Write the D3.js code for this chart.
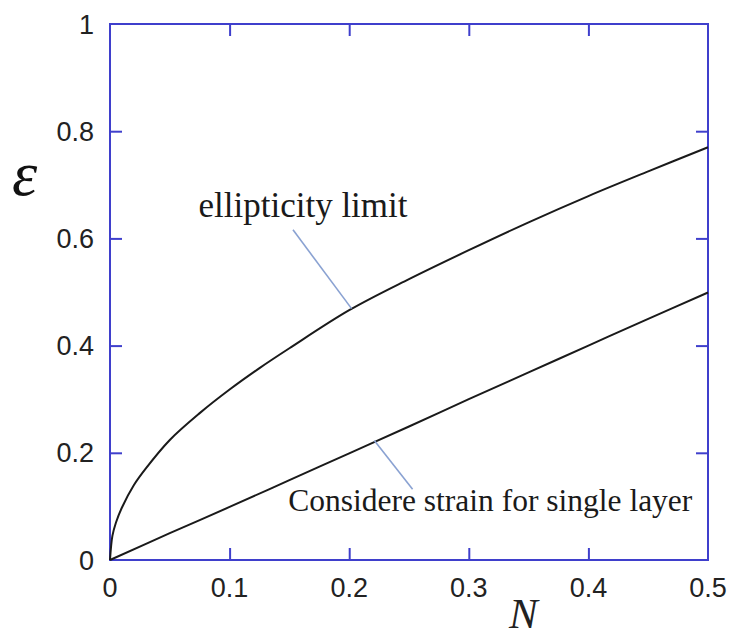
<!DOCTYPE html>
<html>
<head>
<meta charset="utf-8">
<script src="https://cdn.jsdelivr.net/npm/d3@7"></script>
<style>
  html, body { margin: 0; padding: 0; background: #fff; }
  svg { display: block; }
</style>
</head>
<body>
<svg id="chart" width="735" height="636"></svg>
<script>
// ---- data ----
const ellipN   = [0, 0.002, 0.005, 0.01, 0.02, 0.03, 0.05, 0.075, 0.1, 0.125, 0.15, 0.2, 0.25, 0.3, 0.35, 0.4, 0.45, 0.5];
const ellipEps = [0, 0.045, 0.07, 0.098, 0.14, 0.171, 0.224, 0.274, 0.318, 0.358, 0.395, 0.466, 0.524, 0.578, 0.63, 0.679, 0.725, 0.77];
const consN    = [0, 0.05, 0.1, 0.15, 0.2, 0.25, 0.3, 0.35, 0.4, 0.45, 0.5];
const consEps  = [0, 0.05, 0.099, 0.149, 0.199, 0.249, 0.3, 0.35, 0.4, 0.45, 0.499];
const xTicks = [0, 0.1, 0.2, 0.3, 0.4, 0.5];
const yTicks = [0, 0.2, 0.4, 0.6, 0.8, 1];
const annotations = [
  { text: "ellipticity limit", size: 35, tx: 0.074, ty: 0.64, from: [0.153, 0.616], to: [0.202, 0.469] },
  { text: "Considere strain for single layer", size: 31.5, tx: 0.149, ty: 0.092, from: [0.221, 0.223], to: [0.253, 0.132] }
];

// ---- layout ----
(function () {
const svg = d3.select("#chart");
const x = d3.scaleLinear().domain([0, 0.5]).range([110, 708]);
const y = d3.scaleLinear().domain([0, 1]).range([560, 24]);
const axisColor = "#3f3fcc";
const fmt = d => d === 0 ? "0" : (d === 1 ? "1" : d3.format(".1f")(d));

// frame
svg.append("rect")
  .attr("x", x(0)).attr("y", y(1))
  .attr("width", x(0.5) - x(0)).attr("height", y(0) - y(1))
  .attr("fill", "none").attr("stroke", axisColor).attr("stroke-width", 2);

// axes with inward ticks
const tickLen = 12;
const inner = xTicks.filter(d => d > 0 && d < 0.5);
const innerY = yTicks.filter(d => d > 0 && d < 1);

const gBottom = svg.append("g").attr("transform", `translate(0,${y(0)})`)
  .call(d3.axisBottom(x).tickValues(inner).tickSize(-tickLen).tickFormat(""));
const gTop = svg.append("g").attr("transform", `translate(0,${y(1)})`)
  .call(d3.axisTop(x).tickValues(inner).tickSize(-tickLen).tickFormat(""));
const gLeft = svg.append("g").attr("transform", `translate(${x(0)},0)`)
  .call(d3.axisLeft(y).tickValues(innerY).tickSize(-tickLen).tickFormat(""));
const gRight = svg.append("g").attr("transform", `translate(${x(0.5)},0)`)
  .call(d3.axisRight(y).tickValues(innerY).tickSize(-tickLen).tickFormat(""));
[gBottom, gTop, gLeft, gRight].forEach(g => {
  g.select(".domain").remove();
  g.selectAll(".tick line").attr("stroke", axisColor).attr("stroke-width", 2);
});

// tick labels
svg.append("g").selectAll("text").data(xTicks).join("text")
  .attr("x", d => x(d)).attr("y", 597)
  .attr("text-anchor", "middle")
  .attr("font-family", "Liberation Sans, Arial, sans-serif")
  .attr("font-size", 27).attr("fill", "#222")
  .text(fmt);
svg.append("g").selectAll("text").data(yTicks).join("text")
  .attr("x", 94).attr("y", d => y(d) + 9.5)
  .attr("text-anchor", "end")
  .attr("font-family", "Liberation Sans, Arial, sans-serif")
  .attr("font-size", 27).attr("fill", "#222")
  .text(fmt);

// axis titles
svg.append("text").attr("x", 12).attr("y", 195)
  .attr("font-family", "Liberation Serif, Times New Roman, serif")
  .attr("font-style", "italic").attr("font-size", 64).attr("fill", "#111")
  .text("ε");
svg.append("text").attr("x", 509).attr("y", 628)
  .attr("font-family", "Liberation Serif, Times New Roman, serif")
  .attr("font-style", "italic").attr("font-size", 43).attr("fill", "#222")
  .text("N");

// curves
const line = d3.line().x(d => x(d[0])).y(d => y(d[1])).curve(d3.curveCatmullRom.alpha(0.5));
svg.append("path").datum(ellipN.map((n, i) => [n, ellipEps[i]]))
  .attr("d", line).attr("fill", "none").attr("stroke", "#1a1a1a").attr("stroke-width", 2);
svg.append("path").datum(consN.map((n, i) => [n, consEps[i]]))
  .attr("d", line).attr("fill", "none").attr("stroke", "#1a1a1a").attr("stroke-width", 2);

// annotations
annotations.forEach(a => {
  svg.append("line")
    .attr("x1", x(a.from[0])).attr("y1", y(a.from[1]))
    .attr("x2", x(a.to[0])).attr("y2", y(a.to[1]))
    .attr("stroke", "#8aa2d2").attr("stroke-width", 1.6);
  svg.append("text").attr("x", x(a.tx)).attr("y", y(a.ty))
    .attr("font-family", "Liberation Serif, Times New Roman, serif")
    .attr("font-size", a.size).attr("fill", "#1a1a1a")
    .text(a.text);
});
})();
</script>
</body>
</html>
